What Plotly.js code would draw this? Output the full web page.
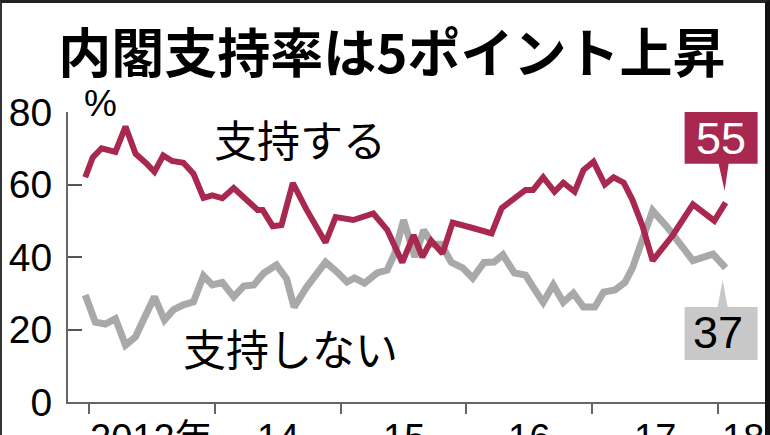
<!DOCTYPE html>
<html>
<head>
<meta charset="utf-8">
<script src="https://cdn.plot.ly/plotly-3.0.1.min.js"></script>
<style>
  html, body { margin: 0; padding: 0; background: #fff; }
  #wrap { position: relative; width: 770px; height: 435px; overflow: hidden; }
  #chart { width: 770px; height: 435px; }
  #frame { position: absolute; left: 0; top: 0; width: 770px; height: 440px; box-sizing: border-box;
           border-top: 3px solid #222; border-left: 2px solid #333; border-right: 5px solid #111; pointer-events: none; }
</style>
</head>
<body>
<div id="wrap"><div id="chart"></div><div id="frame"></div></div>
<script>
// Poll dates as decimal years, values in %
const approvalX = [2012.97,2013.03,2013.10,2013.21,2013.29,2013.37,2013.45,2013.52,2013.59,2013.66,2013.75,2013.83,2013.91,2013.98,2014.06,2014.15,2014.26,2014.34,2014.38,2014.46,2014.53,2014.62,2014.73,2014.88,2014.96,2015.10,2015.26,2015.37,2015.49,2015.58,2015.65,2015.72,2015.81,2015.89,2016.05,2016.20,2016.28,2016.39,2016.47,2016.53,2016.61,2016.70,2016.77,2016.86,2016.93,2017.01,2017.10,2017.17,2017.25,2017.32,2017.40,2017.48,2017.64,2017.80,2017.97,2018.06];
const approvalY = [62,67.5,70,69,76,68.5,66,63.5,68,66.5,66,63,56.3,57,56.2,59,55.5,53,53,48.5,48.8,60.4,53,44,51,50.2,52,47.5,38.5,46,40,44.5,41,49.5,48,46.5,53.5,56.6,58.5,58.5,62,58,60.5,58,64,66.3,60,62,60.5,55.7,48.5,39,46,54.5,50,55];

const disapprovalX = [2012.97,2013.05,2013.13,2013.21,2013.29,2013.37,2013.43,2013.52,2013.60,2013.67,2013.75,2013.83,2013.91,2013.98,2014.06,2014.15,2014.23,2014.31,2014.39,2014.49,2014.57,2014.63,2014.73,2014.88,2014.97,2015.05,2015.11,2015.19,2015.29,2015.37,2015.43,2015.50,2015.59,2015.66,2015.73,2015.80,2015.88,2015.97,2016.05,2016.14,2016.22,2016.29,2016.38,2016.47,2016.53,2016.61,2016.69,2016.77,2016.85,2016.93,2017.02,2017.09,2017.18,2017.26,2017.32,2017.40,2017.48,2017.59,2017.70,2017.80,2017.96,2018.06];
const disapprovalY = [29.5,22,21.5,23,15.7,18,22.5,29,22.6,25.4,26.8,27.6,34.8,32.3,33,29,32,32.3,35.6,37.8,34,26.2,31.7,38.6,35.9,33.1,34.2,32.8,35.6,36.4,41,50.2,40,47.4,43.5,43.5,38.5,37,34.2,38.5,38.6,40.6,35.6,35,31.7,27.5,32.3,27.5,30,26.2,26.2,30.3,30.9,33,37,44.5,52.8,48.5,43.5,39,40.8,37];

const yearTicks = [2013, 2014, 2015, 2016, 2017, 2018];
const yearLabels = ['2012年', '14', '15', '16', '17', '18'];
const yTicks = [0, 20, 40, 60, 80];
const seriesNames = ['支持する', '支持しない'];
const titleText = '内閣支持率は5ポイント上昇';

const RED = '#A8284F';
const GRAY = '#A9A9A9';
const NUM_FONT = '"Liberation Sans", Arial, "Noto Sans CJK JP", sans-serif';
const JP_FONT = '"Noto Sans CJK JP", sans-serif';

const xRange = [2012.833, 2018.389];

const traces = [
  { x: disapprovalX, y: disapprovalY, type: 'scatter', mode: 'lines', name: seriesNames[1],
    line: { color: GRAY, width: 7 }, hoverinfo: 'skip' },
  { x: approvalX, y: approvalY, type: 'scatter', mode: 'lines', name: seriesNames[0],
    line: { color: RED, width: 6 }, hoverinfo: 'skip' }
];

const lastAX = approvalX[approvalX.length - 1];
const lastAY = approvalY[approvalY.length - 1];
const lastDX = disapprovalX[disapprovalX.length - 1];
const lastDY = disapprovalY[disapprovalY.length - 1];

const annotations = [];
yearTicks.forEach((t, i) => {
  const end = Math.min(i + 1 < yearTicks.length ? yearTicks[i + 1] : xRange[1], xRange[1]);
  annotations.push({ x: (t + end) / 2, y: -0.125, xref: 'x', yref: 'paper', text: yearLabels[i],
    showarrow: false, xanchor: 'center', yanchor: 'middle', font: { family: NUM_FONT, size: 38, color: '#000' } });
});
annotations.push({ x: 0.047, y: 1.03, xref: 'paper', yref: 'paper', text: '%', showarrow: false,
  xanchor: 'center', yanchor: 'middle', font: { family: '"Liberation Sans", sans-serif', size: 37, color: '#000' } });
annotations.push({ x: 0.332, y: 0.91, xref: 'paper', yref: 'paper', text: seriesNames[0], showarrow: false,
  xanchor: 'center', yanchor: 'middle', font: { family: JP_FONT, size: 43, color: '#000' } });
annotations.push({ x: 0.318, y: 0.19, xref: 'paper', yref: 'paper', text: seriesNames[1], showarrow: false,
  xanchor: 'center', yanchor: 'middle', font: { family: JP_FONT, size: 43, color: '#000' } });
annotations.push({ x: lastAX, y: lastAY, xref: 'x', yref: 'y', text: String(Math.round(lastAY)), showarrow: false,
  xanchor: 'center', yanchor: 'middle', xshift: -5, yshift: 64, font: { family: NUM_FONT, size: 45, color: '#fff' } });
annotations.push({ x: lastDX, y: lastDY, xref: 'x', yref: 'y', text: String(Math.round(lastDY)), showarrow: false,
  xanchor: 'center', yanchor: 'middle', xshift: -8, yshift: -65, font: { family: NUM_FONT, size: 45, color: '#000' } });

const shapes = [
  { type: 'path', xref: 'x', yref: 'y', xsizemode: 'pixel', ysizemode: 'pixel', xanchor: lastAX, yanchor: lastAY,
    path: 'M -41,39 L -7,39 L -1,12 L 3,39 L 32,39 L 32,91 L -41,91 Z', fillcolor: RED, line: { width: 0 } },
  { type: 'path', xref: 'x', yref: 'y', xsizemode: 'pixel', ysizemode: 'pixel', xanchor: lastDX, yanchor: lastDY,
    path: 'M -41,-39 L -8,-39 L -3,-12 L 2,-39 L 32,-39 L 32,-92 L -41,-92 Z', fillcolor: '#C8C8C8', line: { width: 0 } }
];

const layout = {
  width: 770, height: 435,
  margin: { l: 68, r: 3, t: 112, b: 33, pad: 0 },
  paper_bgcolor: '#fff', plot_bgcolor: '#fff',
  showlegend: false,
  title: { text: titleText, x: 0.509, xref: 'container', xanchor: 'center', y: 0.874, yref: 'container', yanchor: 'middle',
    font: { family: JP_FONT, size: 53, color: '#000', weight: 'bold' } },
  xaxis: { range: xRange, showgrid: false, zeroline: false, showline: true, linecolor: '#666', linewidth: 2,
    ticks: 'outside', ticklen: 10, tickwidth: 2, tickcolor: '#666', tickmode: 'array', tickvals: yearTicks,
    showticklabels: false, fixedrange: true },
  yaxis: { range: [0, 80], showgrid: false, zeroline: false, showline: true, linecolor: '#666', linewidth: 2,
    ticks: 'inside', ticklen: 14, tickwidth: 2, tickcolor: '#555', tickmode: 'array', tickvals: yTicks,
    ticktext: yTicks.map(String), ticklabelstandoff: 6,
    tickfont: { family: NUM_FONT, size: 39, color: '#000' }, fixedrange: true },
  annotations: annotations,
  shapes: shapes
};

Plotly.newPlot('chart', traces, layout, { staticPlot: true, displayModeBar: false });
</script>
</body>
</html>
